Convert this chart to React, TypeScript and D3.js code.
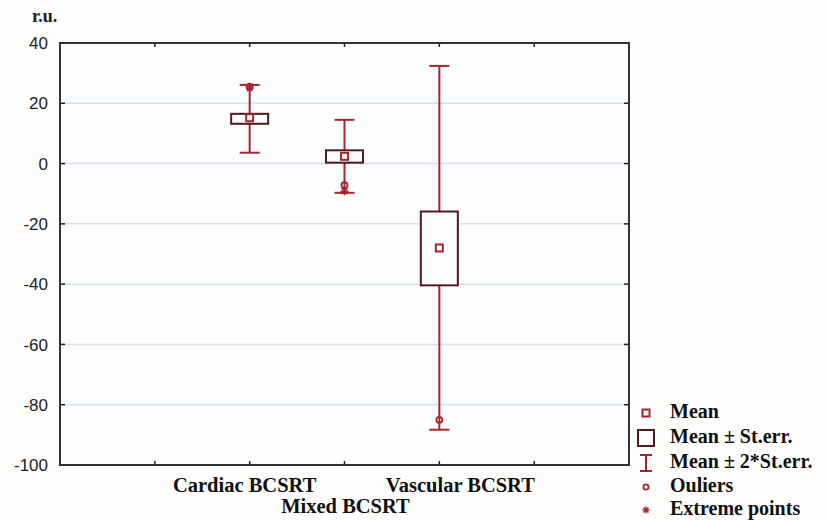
import React from "react";
import * as d3 from "d3";

const categories = ["Cardiac BCSRT", "Mixed BCSRT", "Vascular BCSRT"];
const categorySlots = [2, 3, 4];
const meanValues = [15.2, 2.4, -28.0];
const seLow = [13.2, 0.3, -40.4];
const seHigh = [16.5, 4.4, -15.9];
const whiskLow = [3.6, -9.7, -88.3];
const whiskHigh = [26.1, 14.5, 32.4];
const outliers = [
  { cat: 0, value: 25.5 },
  { cat: 1, value: -7.2 },
  { cat: 2, value: -85.0 },
];
const extremes = [
  { cat: 0, value: 25.0 },
  { cat: 1, value: -9.2 },
];
const yTicks = [40, 20, 0, -20, -40, -60, -80, -100];
const xTickSlots = [1, 2, 3, 4, 5];
const legendItems = ["Mean", "Mean \u00b1 St.err.", "Mean \u00b1 2*St.err.", "Ouliers", "Extreme points"];

const W = 829;
const H = 520;
const M = { left: 60, right: 629, top: 43, bottom: 465 };
const WHISK = "#a2282d";
const BOX = "#4f1c1e";
const SERIF = "'Liberation Serif', 'Times New Roman', 'DejaVu Serif', serif";
const SANS = "'Liberation Sans', Arial, sans-serif";

export default function App() {
  const x = d3.scaleLinear().domain([0, 6]).range([M.left, M.right]);
  const y = d3.scaleLinear().domain([-100, 40]).range([M.bottom, M.top]);
  const boxW = 37;
  const capW = 20;
  const labelDx = [-5, 1, 21];
  const labelDy = [492, 513, 492];
  const legendY = [413, 438, 463, 487, 510];

  const star = (cx: number, cy: number, r: number, key: string) => (
    <g key={key} stroke={WHISK} strokeWidth={1.4}>
      {[0, 45, 90, 135].map((a) => {
        const rad = (a * Math.PI) / 180;
        return (
          <line
            key={a}
            x1={cx - r * Math.cos(rad)}
            y1={cy - r * Math.sin(rad)}
            x2={cx + r * Math.cos(rad)}
            y2={cy + r * Math.sin(rad)}
          />
        );
      })}
    </g>
  );

  return (
    <svg width={W} height={H} style={{ position: "absolute", left: 0, top: 0, background: "#fdfdfc" }}>
      <rect x={M.left} y={M.top} width={M.right - M.left} height={M.bottom - M.top} fill="#fbfdfe" />
      {yTicks.map((t) => (
        <g key={t}>
          {t !== 40 && t !== -100 && (
            <line x1={M.left} x2={M.right} y1={y(t)} y2={y(t)} stroke="#d9dee8" strokeWidth={1.5} />
          )}
          <line x1={M.left} x2={M.left + 5} y1={y(t)} y2={y(t)} stroke="#222" strokeWidth={1.5} />
          <line x1={M.right - 5} x2={M.right} y1={y(t)} y2={y(t)} stroke="#222" strokeWidth={1.5} />
          <text
            x={48}
            y={y(t)}
            dy="0.36em"
            textAnchor="end"
            style={{ fontFamily: SANS }}
            fontSize={17}
            fill="#222"
          >
            {t}
          </text>
        </g>
      ))}
      {xTickSlots.map((s) => (
        <g key={s}>
          <line x1={x(s)} x2={x(s)} y1={M.top} y2={M.top + 4} stroke="#222" strokeWidth={1.5} />
          <line x1={x(s)} x2={x(s)} y1={M.bottom - 4} y2={M.bottom} stroke="#222" strokeWidth={1.5} />
        </g>
      ))}
      <rect
        x={M.left}
        y={M.top}
        width={M.right - M.left}
        height={M.bottom - M.top}
        fill="none"
        stroke="#333"
        strokeWidth={2}
      />
      {categories.map((c, i) => {
        const cx = x(categorySlots[i]);
        return (
          <g key={c}>
            <line x1={cx} x2={cx} y1={y(whiskHigh[i])} y2={y(whiskLow[i])} stroke={WHISK} strokeWidth={2} />
            <line x1={cx - capW / 2} x2={cx + capW / 2} y1={y(whiskHigh[i])} y2={y(whiskHigh[i])} stroke={WHISK} strokeWidth={2} />
            <line x1={cx - capW / 2} x2={cx + capW / 2} y1={y(whiskLow[i])} y2={y(whiskLow[i])} stroke={WHISK} strokeWidth={2} />
            <rect
              x={cx - boxW / 2}
              y={y(seHigh[i])}
              width={boxW}
              height={y(seLow[i]) - y(seHigh[i])}
              fill="#fbfdfe"
              stroke={BOX}
              strokeWidth={2}
            />
            <rect x={cx - 3.5} y={y(meanValues[i]) - 3.5} width={7} height={7} fill="#fff" stroke={WHISK} strokeWidth={2} />
          </g>
        );
      })}
      {outliers.map((o, i) => (
        <circle key={"o" + i} cx={x(categorySlots[o.cat])} cy={y(o.value)} r={3} fill="none" stroke={WHISK} strokeWidth={1.8} />
      ))}
      {extremes.map((e, i) => star(x(categorySlots[e.cat]), y(e.value), 4, "e" + i))}
      {categories.map((c, i) => (
        <text
          key={"l" + c}
          x={x(categorySlots[i]) + labelDx[i]}
          y={labelDy[i]}
          textAnchor="middle"
          style={{ fontFamily: SERIF, fontWeight: 700 }}
          fontSize={20.5}
          fill="#111"
        >
          {c}
        </text>
      ))}
      <text x={32} y={22} style={{ fontFamily: SERIF, fontWeight: 700 }} fontSize={18} fill="#222">
        r.u.
      </text>
      {legendItems.map((l, i) => {
        const ly = legendY[i];
        const lx = 646;
        let sym: React.ReactNode = null;
        if (i === 0) sym = <rect x={lx - 3.5} y={ly - 3.5} width={7} height={7} fill="#fff" stroke={WHISK} strokeWidth={2} />;
        if (i === 1) sym = <rect x={lx - 8} y={ly - 8} width={16} height={16} fill="#fff" stroke={BOX} strokeWidth={2} />;
        if (i === 2)
          sym = (
            <g stroke={WHISK} strokeWidth={2}>
              <line x1={lx} x2={lx} y1={ly - 8} y2={ly + 8} />
              <line x1={lx - 6} x2={lx + 6} y1={ly - 8} y2={ly - 8} />
              <line x1={lx - 6} x2={lx + 6} y1={ly + 8} y2={ly + 8} />
            </g>
          );
        if (i === 3) sym = <circle cx={lx} cy={ly} r={2.6} fill="none" stroke={WHISK} strokeWidth={1.8} />;
        if (i === 4) sym = star(lx, ly, 3.5, "ls");
        return (
          <g key={l}>
            {sym}
            <text
              x={670}
              y={ly + 5}
              style={{ fontFamily: SERIF, fontWeight: 700 }}
              fontSize={20}
              fill="#111"
            >
              {l}
            </text>
          </g>
        );
      })}
    </svg>
  );
}
